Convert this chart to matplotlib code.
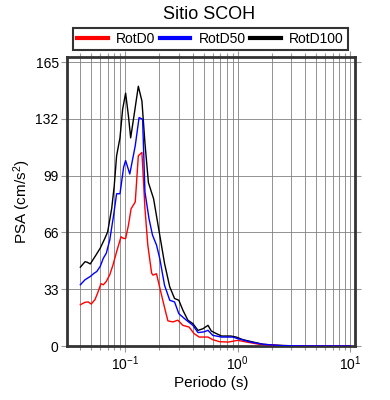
import matplotlib
matplotlib.use("Agg")
from matplotlib import pyplot as plt
from matplotlib.lines import Line2D

#------------------------------------------#
# Data
#------------------------------------------#

# RotD100 (black)
per_d100 = [0.040, 0.044, 0.046, 0.049, 0.054, 0.060, 0.066, 0.070, 0.076, 0.080,
            0.084, 0.090, 0.095, 0.101, 0.107, 0.112, 0.121, 0.131, 0.141, 0.150,
            0.161, 0.179, 0.200, 0.224, 0.249, 0.275, 0.300, 0.326, 0.361, 0.400,
            0.444, 0.490, 0.545, 0.583, 0.647, 0.720, 0.870, 0.970, 1.11, 1.37,
            1.68, 2.2, 3.0, 5.0, 10.0]
psa_d100 = [45.8, 49.0, 48.7, 47.7, 52.0, 56.8, 62.5, 66.4, 80.0, 93.0,
            110.6, 121.0, 137.6, 147.0, 133.7, 121.0, 135.6, 151.0, 142.4, 118.0,
            95.0, 85.6, 67.0, 48.0, 34.4, 27.6, 26.6, 20.8, 15.0, 13.0,
            9.1, 10.0, 12.0, 8.7, 7.2, 5.8, 5.8, 5.2, 3.7, 2.3,
            1.0, 0.4, 0.15, 0.05, 0.0]

# RotD50 (blue)
per_d50 = [0.040, 0.044, 0.049, 0.053, 0.056, 0.060, 0.064, 0.068, 0.073, 0.079,
           0.084, 0.090, 0.097, 0.101, 0.110, 0.123, 0.133, 0.143, 0.150, 0.163,
           0.175, 0.190, 0.203, 0.224, 0.249, 0.275, 0.300, 0.350, 0.400, 0.444,
           0.500, 0.545, 0.600, 0.720, 0.900, 1.00, 1.30, 1.68, 2.5, 4.0, 10.0]
psa_d50 = [35.6, 38.5, 40.4, 42.3, 43.3, 46.2, 51.0, 53.9, 61.6, 76.0,
           88.5, 88.5, 104.0, 107.8, 100.0, 116.4, 132.8, 131.8, 89.5, 74.0,
           64.5, 58.7, 50.9, 35.3, 26.6, 25.6, 18.8, 15.0, 12.0, 7.8,
           8.2, 9.1, 6.2, 5.2, 5.2, 4.3, 2.3, 1.0, 0.2, 0.05, 0.0]

# RotD0 (red)
per_d0 = [0.040, 0.044, 0.047, 0.050, 0.054, 0.057, 0.061, 0.064, 0.068, 0.073,
          0.078, 0.084, 0.092, 0.097, 0.101, 0.107, 0.113, 0.123, 0.131, 0.141,
          0.150, 0.159, 0.172, 0.177, 0.190, 0.209, 0.231, 0.240, 0.266, 0.294,
          0.326, 0.370, 0.410, 0.455, 0.545, 0.600, 0.690, 0.830, 1.00, 1.20,
          1.55, 2.5, 4.0, 10.0]
psa_d0 = [24.0, 25.4, 25.6, 24.4, 27.0, 30.8, 36.2, 35.6, 37.5, 41.4,
          47.1, 54.8, 63.5, 62.5, 62.5, 70.2, 79.8, 83.7, 110.6, 112.5,
          80.0, 58.7, 42.3, 41.2, 42.0, 30.5, 18.8, 14.6, 14.0, 15.0,
          12.0, 11.0, 7.2, 5.2, 5.2, 3.7, 2.5, 2.3, 3.3, 2.3,
          1.0, 0.2, 0.05, 0.0]

series_names = ["RotD0", "RotD50", "RotD100"]
series_colors = ["#ff0000", "#0000ff", "#000000"]
y_ticks = [0, 33, 66, 99, 132, 165]

#------------------------------------------#
# Style
#------------------------------------------#

plt.rcParams['font.family'] = ['Liberation Sans', 'DejaVu Sans']
plt.rcParams['mathtext.fontset'] = 'custom'
plt.rcParams['mathtext.rm'] = 'Liberation Sans'
plt.rcParams['mathtext.it'] = 'Liberation Sans'

fig = plt.figure(figsize=(3.9, 4.0), dpi=100)
ax = fig.add_axes([0.172, 0.135, 0.738, 0.7225])

#------------------------------------------#
# Plot
#------------------------------------------#

ax.plot(per_d0, psa_d0, color=series_colors[0], lw=1.0, zorder=3)
ax.plot(per_d50, psa_d50, color=series_colors[1], lw=1.0, zorder=4)
ax.plot(per_d100, psa_d100, color=series_colors[2], lw=1.0, zorder=2)

ax.set_xscale('log')
ax.set_xlim(0.0305, 11.0)
ax.set_ylim(0, 168)
ax.set_yticks(y_ticks)
ax.set_yticklabels([str(v) for v in y_ticks])

ax.grid(True, which='major', color='#808080', lw=0.6)
ax.grid(True, which='minor', axis='x', color='#808080', lw=0.6)
ax.set_axisbelow(True)

ax.tick_params(which='both', direction='out', top=True, right=True,
               color='#999999', labelsize=10, length=4, width=0.8, pad=2)
ax.tick_params(which='minor', length=3)
for sp in ax.spines.values():
    sp.set_linewidth(2.0)
    sp.set_color('#333333')

ax.set_xlabel("Periodo (s)", fontsize=11, labelpad=2)
ax.set_ylabel("PSA (cm/s$^2$)", fontsize=11, labelpad=2)
fig.text(0.535, 0.963, "Sitio SCOH", ha='center', va='center', fontsize=13)

handles = [Line2D([0], [0], color=c, lw=3) for c in series_colors]
leg = fig.legend(handles, series_names, ncol=3, loc='lower left',
                 bbox_to_anchor=(0.187, 0.875, 0.705, 0.055), mode='expand',
                 frameon=True, fancybox=False, fontsize=10, handlelength=2.2,
                 handletextpad=0.6, borderpad=0.3, columnspacing=1.0,
                 borderaxespad=0.0)
leg.get_frame().set_edgecolor('black')
leg.get_frame().set_linewidth(1.5)

plt.savefig("out.png", dpi=100)
